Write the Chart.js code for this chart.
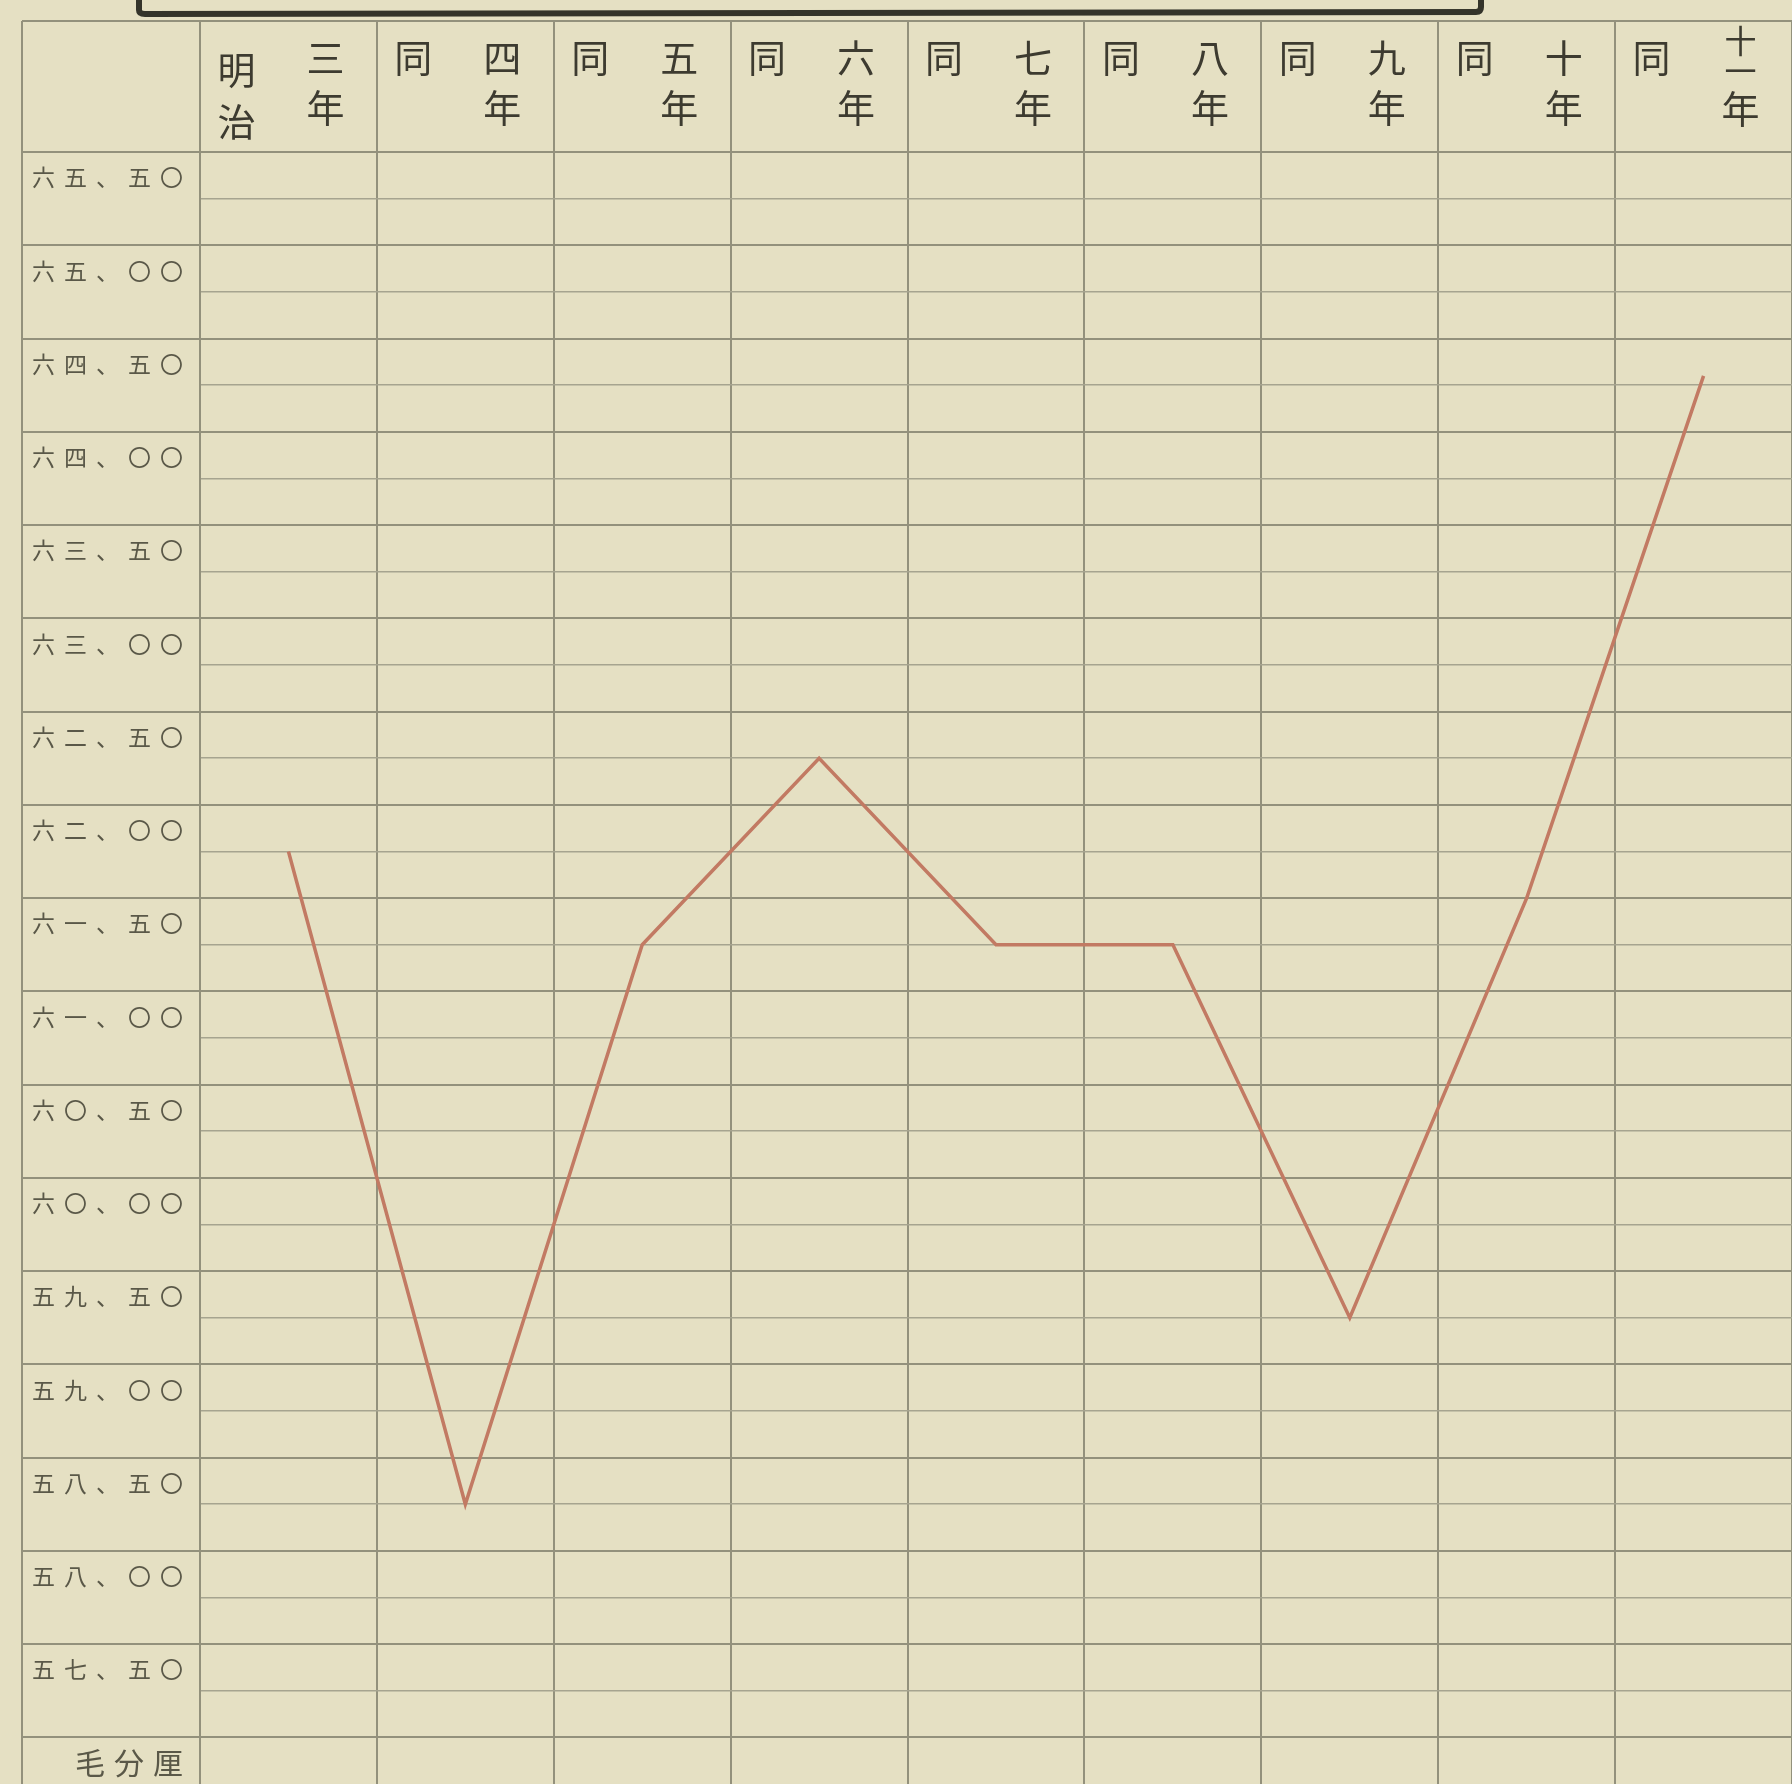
<!DOCTYPE html>
<html>
<head>
<meta charset="utf-8">
<script src="https://cdn.jsdelivr.net/npm/chart.js@4.4.1/dist/chart.umd.min.js"></script>
<style>
  html, body { margin: 0; padding: 0; background: #e4dfc2; }
</style>
</head>
<body>
<canvas id="chart" width="1792" height="1784"></canvas>
<script>
'use strict';

// categories (明治 years) and how the header cell writes them
const years = ['明治三年', '同四年', '同五年', '同六年', '同七年', '同八年', '同九年', '同十年', '同十一年'];
const headLeft = ['明治', '同', '同', '同', '同', '同', '同', '同', '同'];
const headRight = ['三年', '四年', '五年', '六年', '七年', '八年', '九年', '十年', '十一年'];

// the red line
const values = [62.0, 58.5, 61.5, 62.5, 61.5, 61.5, 59.5, 61.75, 64.55];

// row labels on the left
const tickValues = [65.5, 65.0, 64.5, 64.0, 63.5, 63.0, 62.5, 62.0, 61.5, 61.0, 60.5, 60.0, 59.5, 59.0, 58.5, 58.0, 57.5, 57.0];
const tickLabels = ['六五、五〇', '六五、〇〇', '六四、五〇', '六四、〇〇', '六三、五〇', '六三、〇〇', '六二、五〇', '六二、〇〇',
  '六一、五〇', '六一、〇〇', '六〇、五〇', '六〇、〇〇', '五九、五〇', '五九、〇〇', '五八、五〇', '五八、〇〇', '五七、五〇', '毛分厘'];

const paper = '#e5e0c3';
const ruleDark = '#93917c';
const ruleLight = '#a6a48f';
const ink = '#3d3b30';
const inkLight = '#5a5848';
const JP = '"Noto Sans CJK JP", "Noto Sans CJK SC", sans-serif';

const isLabelRow = v => (v * 2) % 1 === 0;

const paperPlugin = {
  id: 'paper',
  beforeDraw(chart) {
    const c = chart.ctx;
    c.save();
    c.fillStyle = paper;
    c.fillRect(0, 0, chart.width, chart.height);
    // bottom of the title box, cut off by the page edge
    c.strokeStyle = '#34342a';
    c.lineWidth = 6;
    c.beginPath();
    c.moveTo(139, -10);
    c.lineTo(139, 10);
    c.quadraticCurveTo(139, 14, 145, 14);
    c.lineTo(1476, 12);
    c.quadraticCurveTo(1481, 12, 1481, 7);
    c.lineTo(1481, -10);
    c.stroke();
    // outer frame: top of the header and left edge of the label column
    c.strokeStyle = ruleDark;
    c.lineWidth = 2;
    c.beginPath();
    c.moveTo(22, 21);
    c.lineTo(chart.width, 21);
    c.moveTo(22, 21);
    c.lineTo(22, chart.height);
    c.stroke();
    c.restore();
    c.letterSpacing = '9px';
  },
  afterDraw(chart) {
    const c = chart.ctx;
    const xs = chart.scales.x;
    c.save();
    c.letterSpacing = '0px';
    c.fillStyle = ink;
    c.textAlign = 'center';
    c.textBaseline = 'middle';
    const top = xs.top;
    years.forEach((y, i) => {
      const cx = xs.getPixelForValue(i);
      const left = headLeft[i].split('');
      const right = headRight[i].split('');
      const ly = left.length === 2 ? [49, 101] : [37];
      const ry = right.length === 3 ? [20, 50, 88] : [37, 87];
      c.font = '38px ' + JP;
      left.forEach((ch, k) => c.fillText(ch, cx - 52, top + ly[k]));
      right.forEach((ch, k) => {
        c.font = (right.length === 3 && k < 2 ? '32px ' : '38px ') + JP;
        c.fillText(ch, cx + 37, top + ry[k]);
      });
    });
    c.restore();
  }
};

const ctx = document.getElementById('chart').getContext('2d');

const chart = new Chart(ctx, {
  type: 'line',
  data: {
    labels: years,
    datasets: [{
      data: values,
      borderColor: '#c27a63',
      borderWidth: 3.5,
      pointRadius: 0,
      tension: 0,
      fill: false
    }]
  },
  options: {
    responsive: false,
    animation: false,
    layout: { padding: { left: 22, top: 21, right: 0, bottom: 0 } },
    plugins: { legend: { display: false }, tooltip: { enabled: false } },
    scales: {
      x: {
        type: 'category',
        position: 'top',
        offset: true,
        grid: { offset: true, color: ruleDark, lineWidth: 2, tickColor: ruleDark, tickLength: 131, drawTicks: true },
        border: { display: true, color: ruleDark, width: 2 },
        ticks: { display: false },
        afterFit: s => { s.height = 131; }
      },
      y: {
        position: 'left',
        min: 57,
        max: 65.75,
        afterBuildTicks: s => {
          const t = [];
          for (let v = 57; v <= 65.75; v += 0.25) t.push({ value: v });
          s.ticks = t;
        },
        afterFit: s => { s.width = 178; },
        border: { display: true, color: ruleDark, width: 2 },
        grid: {
          drawTicks: true,
          tickLength: 178,
          color: c => (c.tick && c.tick.value === 57) ? 'rgba(0,0,0,0)' : (c.tick && isLabelRow(c.tick.value) ? ruleLight : ruleDark),
          lineWidth: c => (c.tick && isLabelRow(c.tick.value) ? 1.6 : 2),
          tickColor: c => (c.tick && !isLabelRow(c.tick.value) ? ruleDark : 'rgba(0,0,0,0)')
        },
        ticks: {
          autoSkip: false,
          crossAlign: 'near',
          padding: -170,
          labelOffset: -21,
          color: inkLight,
          font: c => ({ family: JP, size: (c.tick && c.tick.value === 57) ? 30 : 23 }),
          callback: v => {
            const i = tickValues.indexOf(v);
            return i < 0 ? '' : tickLabels[i];
          }
        }
      }
    }
  },
  plugins: [paperPlugin]
});
</script>
</body>
</html>
